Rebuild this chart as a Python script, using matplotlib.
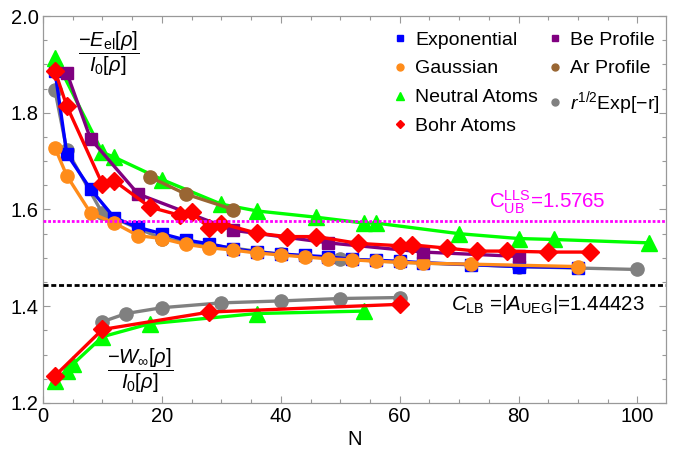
import matplotlib
matplotlib.use("Agg")
import matplotlib.pyplot as plt
from matplotlib.lines import Line2D
from matplotlib.ticker import MultipleLocator, FormatStrFormatter

plt.rcParams['font.family'] = ['Liberation Sans', 'DejaVu Sans']
plt.rcParams['mathtext.fontset'] = 'custom'
plt.rcParams['mathtext.rm'] = 'Liberation Sans'
plt.rcParams['mathtext.it'] = 'Liberation Sans:italic'
plt.rcParams['mathtext.bf'] = 'Liberation Sans:bold'
plt.rcParams['mathtext.sf'] = 'Liberation Sans'

# ---------------- data ----------------
exp_N = [2, 4, 8, 12, 16, 20, 24, 28, 32, 36, 40, 44, 48, 52, 56, 60, 64, 72, 80, 90]
exp_v = [1.887, 1.715, 1.642, 1.583, 1.563, 1.550, 1.537, 1.529, 1.519, 1.512,
         1.508, 1.505, 1.502, 1.497, 1.495, 1.493, 1.490, 1.486, 1.482, 1.480]

gau_N = [2, 4, 8, 12, 16, 20, 24, 28, 32, 36, 40, 44, 48, 52, 56, 60, 64, 72, 90]
gau_v = [1.728, 1.670, 1.593, 1.572, 1.546, 1.540, 1.528, 1.521, 1.516, 1.510,
         1.506, 1.502, 1.498, 1.496, 1.493, 1.491, 1.489, 1.487, 1.482]

neu_N = [2, 10, 12, 20, 30, 36, 46, 54, 56, 70, 80, 86, 102]
neu_v = [1.913, 1.718, 1.708, 1.662, 1.611, 1.597, 1.584, 1.572, 1.572,
         1.550, 1.540, 1.538, 1.531]

bohr_N = [2, 4, 10, 12, 18, 23, 25, 28, 30, 36, 41, 46, 53, 60, 62, 68, 73, 78, 85, 92]
bohr_v = [1.887, 1.814, 1.652, 1.659, 1.605, 1.588, 1.594, 1.561, 1.571, 1.551,
          1.544, 1.544, 1.530, 1.525, 1.527, 1.520, 1.514, 1.514, 1.512, 1.512]

be_N = [4, 8, 16, 32, 48, 64, 80]
be_v = [1.883, 1.746, 1.632, 1.557, 1.531, 1.512, 1.503]

ar_N = [18, 24, 32]
ar_v = [1.667, 1.632, 1.600]

rexp_N = [2, 4, 10, 20, 40, 50, 60, 80, 100]
rexp_v = [1.847, 1.723, 1.592, 1.540, 1.507, 1.498, 1.491, 1.482, 1.476]

# W_inf / I_0 branch
w_neu_N = [2, 4, 5, 10, 18, 36, 54]
w_neu_v = [1.246, 1.267, 1.280, 1.337, 1.364, 1.385, 1.390]

w_bohr_N = [2, 10, 28, 60]
w_bohr_v = [1.256, 1.352, 1.388, 1.404]

w_rexp_N = [10, 14, 20, 30, 40, 50, 60]
w_rexp_v = [1.368, 1.385, 1.397, 1.407, 1.411, 1.416, 1.418]

C_UB = 1.5765
C_LB = 1.44423

# ---------------- styles ----------------
c_blue = (0, 0, 1)
c_orange = (1.0, 0.55, 0.1)
c_green = (0, 1, 0)
c_red = (1, 0, 0)
c_purple = (0.5, 0, 0.5)
c_brown = (0.6, 0.4, 0.2)
c_gray = (0.5, 0.5, 0.5)

fig = plt.figure(figsize=(6.84, 4.49), dpi=100)
ax = fig.add_axes([43/684, 46/449, 623/684, 387/449])

lw = 2.4
ms_s, ms_o, ms_t, ms_d = 8.8, 9.5, 11, 9
ax.plot(rexp_N, rexp_v, '-o', color=c_gray, lw=lw, ms=ms_o, zorder=2)
ax.plot(exp_N, exp_v, '-s', color=c_blue, lw=lw, ms=ms_s, zorder=3)
ax.plot(gau_N, gau_v, '-o', color=c_orange, lw=lw, ms=ms_o, zorder=3)
ax.plot(neu_N, neu_v, '-^', color=c_green, lw=lw, ms=ms_t, zorder=3)
ax.plot(be_N, be_v, '-s', color=c_purple, lw=lw, ms=ms_s, zorder=3)
ax.plot(ar_N, ar_v, '-o', color=c_brown, lw=lw, ms=ms_o, zorder=3)
ax.plot(bohr_N, bohr_v, '-D', color=c_red, lw=lw, ms=ms_d, zorder=4)

ax.plot(w_rexp_N, w_rexp_v, '-o', color=c_gray, lw=lw, ms=ms_o, zorder=2)
ax.plot(w_neu_N, w_neu_v, '-^', color=c_green, lw=lw, ms=ms_t, zorder=3)
ax.plot(w_bohr_N, w_bohr_v, '-D', color=c_red, lw=lw, ms=ms_d, zorder=4)

ax.axhline(C_UB, color=(1, 0, 1), lw=2.0, dashes=(1.0, 0.7), zorder=5)
ax.axhline(C_LB, color='black', lw=2.0, dashes=(1.8, 1.0), zorder=5)

ax.set_xlim(0, 104.8)
ax.set_ylim(1.2, 2.0)
ax.xaxis.set_major_locator(MultipleLocator(20))
ax.xaxis.set_minor_locator(MultipleLocator(5))
ax.yaxis.set_major_locator(MultipleLocator(0.2))
ax.yaxis.set_minor_locator(MultipleLocator(0.05))
ax.yaxis.set_major_formatter(FormatStrFormatter('%.1f'))
ax.tick_params(which='both', direction='in', top=True, right=True,
               color=(0.6, 0.6, 0.6), labelsize=14.5, width=0.8)
ax.tick_params(which='major', length=5, pad=3)
ax.tick_params(which='minor', length=3)
for s in ax.spines.values():
    s.set_color((0.6, 0.6, 0.6))
    s.set_linewidth(0.9)
ax.set_xlabel('N', fontsize=14.5, labelpad=3)

# annotations
ax.text(11.1, 1.921, r'$\dfrac{-E_{\mathrm{el}}[\rho]}{I_0[\rho]}$', fontsize=14.5,
        ha='center', va='center')
ax.text(16.3, 1.266, r'$\dfrac{-W_{\infty}[\rho]}{I_0[\rho]}$', fontsize=14.5,
        ha='center', va='center')
ax.text(84.9, 1.614, r'$\mathregular{C_{UB}^{LLS}}$=1.5765', fontsize=14.8,
        color=(1, 0, 1), ha='center', va='center')
ax.text(85.0, 1.404, r'$C_{\mathrm{LB}}$ =|$A_{\mathrm{UEG}}$|=1.44423', fontsize=14.8,
        color='black', ha='center', va='center')

# legend
handles = [
    Line2D([], [], ls='none', marker='s', color=c_blue, ms=5),
    Line2D([], [], ls='none', marker='o', color=c_orange, ms=5),
    Line2D([], [], ls='none', marker='^', color=c_green, ms=5.5),
    Line2D([], [], ls='none', marker='D', color=c_red, ms=4.5),
    Line2D([], [], ls='none', marker='s', color=c_purple, ms=5),
    Line2D([], [], ls='none', marker='o', color=c_brown, ms=5),
    Line2D([], [], ls='none', marker='o', color=c_gray, ms=5),
]
labels = ['Exponential', 'Gaussian', 'Neutral Atoms', 'Bohr Atoms',
          'Be Profile', 'Ar Profile', r'$r^{1/2}$Exp[$-$r]']
fig.legend(handles, labels, ncol=2, frameon=False, fontsize=14,
           loc='upper left', bbox_to_anchor=(392/684, 1 - 31/449),
           borderaxespad=0, borderpad=0, handlelength=0.8, handletextpad=0.4,
           columnspacing=0.44, labelspacing=0.58)

fig.savefig('out.png', dpi=100)
